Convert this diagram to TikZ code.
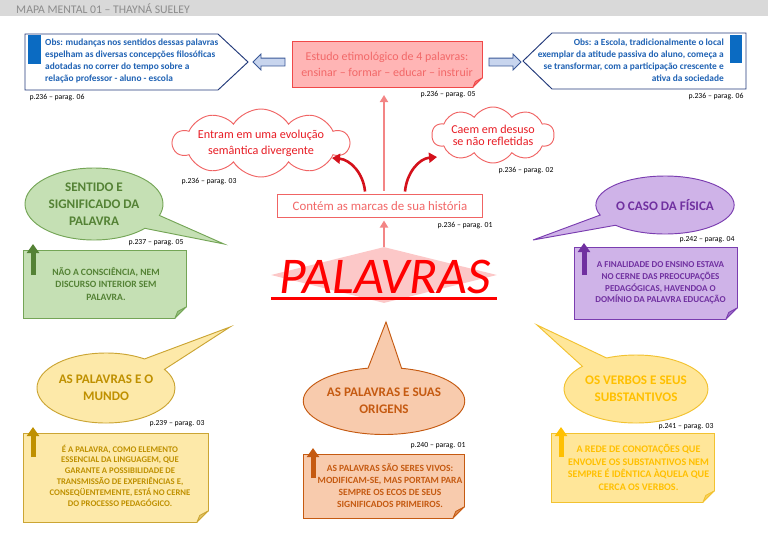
\documentclass[tikz,border=0pt]{standalone}
\usepackage{fontspec}
\setmainfont{Carlito}
\usetikzlibrary{shapes.geometric,shapes.symbols,shapes.callouts,shapes.arrows,arrows.meta}

\definecolor{headgray}{HTML}{D9D9D9}
\definecolor{headtext}{HTML}{8C8C8C}
\definecolor{obsblue}{HTML}{1F62B4}
\definecolor{obsline}{HTML}{22397A}
\definecolor{obsbar}{HTML}{0B6BC2}
\definecolor{arrfill}{HTML}{C8D5EE}
\definecolor{arrline}{HTML}{3A5897}
\definecolor{estfill}{HTML}{FFB5B5}
\definecolor{estline}{HTML}{F04848}
\definecolor{esttext}{HTML}{F26868}
\definecolor{cloudline}{HTML}{F06464}
\definecolor{cloudtext}{HTML}{E81C24}
\definecolor{curvered}{HTML}{D4111B}
\definecolor{pinkline}{HTML}{F38585}
\definecolor{palred}{HTML}{FF0000}
\definecolor{palbgcol}{HTML}{FCC8C8}
\definecolor{grfill}{HTML}{C5E0B4}
\definecolor{grline}{HTML}{74A556}
\definecolor{grtext}{HTML}{548235}
\definecolor{pufill}{HTML}{CFB3E8}
\definecolor{puline}{HTML}{7A3DB0}
\definecolor{putext}{HTML}{7030A0}
\definecolor{gdfill}{HTML}{FDE9A9}
\definecolor{gdline}{HTML}{CBA534}
\definecolor{gdtext}{HTML}{BF9000}
\definecolor{orfill}{HTML}{F8CBAD}
\definecolor{orline}{HTML}{C55A11}
\definecolor{ortext}{HTML}{C55A11}
\definecolor{yefill}{HTML}{FFE699}
\definecolor{yeline}{HTML}{F2C230}
\definecolor{yetext}{HTML}{FFC000}

% one pixel of the layout grid
\def\pxu{*0.03cm}

% folded corner at the bottom right of a box node
\newcommand{\foldcorner}[4]{%
  \fill[white] ([xshift=-#4\pxu,yshift=-1pt]#1.south east) -- ([xshift=1pt,yshift=-1pt]#1.south east) -- ([xshift=1pt,yshift=#4\pxu]#1.south east) -- cycle;
  \filldraw[fill=#3!55!#2, draw=#3, line width=0.7pt, line join=round] ([xshift=-#4\pxu]#1.south east) -- ([yshift=#4\pxu]#1.south east) -- ([xshift=-0.75*#4\pxu,yshift=0.6*#4\pxu]#1.south east) -- cycle;
}

\tikzset{
  pgref/.style={inner sep=0pt, font=\fontsize{6.6}{7}\selectfont},
  obstext/.style={inner sep=0pt, text=obsblue, font=\bfseries\fontsize{8}{10.3}\selectfont},
  obsbox/.style={draw=obsline, fill=white, line width=0.8pt, line join=miter},
  bluearrow/.style={single arrow, draw=arrline, fill=arrfill, line width=0.7pt, inner sep=0.105cm, minimum height=0.96cm, single arrow head extend=0.12cm},
  cloudbox/.style={cloud, cloud puffs=10, cloud puff arc=115, cloud ignores aspect, draw=cloudline, fill=white, line width=0.8pt, text=cloudtext, inner sep=0pt, align=center},
  bubble/.style={ellipse callout, callout pointer arc=24, line width=0.8pt, inner sep=0pt, align=center, minimum width=4.14cm, font=\bfseries\fontsize{11.2}{14.4}\selectfont},
  note/.style={rectangle, line width=0.7pt, inner sep=0pt, outer sep=0pt},
  notetext/.style={inner sep=0pt, align=center},
  notearrow/.style={line width=0.15cm, -{Triangle[width=0.36cm,length=0.27cm]}},
  pinkarrow/.style={draw=pinkline, line width=0.06cm, -{Triangle[width=0.24cm,length=0.21cm]}},
  redcurve/.style={draw=curvered, line width=0.078cm, -{Triangle[width=0.3cm,length=0.24cm]}},
  grn/.style={fill=grfill, draw=grline, text=grtext},
  pur/.style={fill=pufill, draw=puline, text=putext},
  gld/.style={fill=gdfill, draw=gdline, text=gdtext},
  orn/.style={fill=orfill, draw=orline, text=ortext},
  yel/.style={fill=yefill, draw=yeline, text=yetext}
}

\begin{document}
\begin{tikzpicture}[x=0.03cm, y=-0.03cm]
\useasboundingbox (0,0) rectangle (768,532);

% header
\fill[headgray] (0,0) rectangle (768,16);
\node[anchor=west, inner sep=0pt, text=headtext, font=\fontsize{10}{12}\selectfont] (title) at (16,8.5) {MAPA MENTAL 01 -- THAYNÁ SUELEY};

% top row
\draw[obsbox] (25,34) -- (218,34) -- (248,62) -- (218,90) -- (25,90) -- cycle;
\fill[obsbar] (28,35) rectangle (41,64);
\node[obstext, anchor=west, align=left] (obsL) at (45,61) {Obs: mudanças nos sentidos dessas palavras\\espelham as diversas concepções filosóficas\\adotadas no correr do tempo sobre a\\relação professor - aluno - escola};
\draw[obsbox] (523,61) -- (552,33) -- (746,33) -- (746,89) -- (552,89) -- cycle;
\fill[obsbar] (730,35) rectangle (742,63);
\node[obstext, anchor=east, align=right] (obsR) at (724,60) {Obs: a Escola, tradicionalmente o local\\exemplar da atitude passiva do aluno, começa a\\se transformar, com a participação crescente e\\ativa da sociedade};

\node[rectangle, fill=estfill, draw=estline, line width=0.7pt, outer sep=0pt, minimum width=190\pxu, minimum height=46\pxu, text=esttext, align=center, font=\fontsize{10.2}{13.5}\selectfont] (estudo) at (387,64) {Estudo etimológico de 4 palavras:\\ensinar -- formar -- educar -- instruir};
\foldcorner{estudo}{estfill}{estline}{9}

\node[bluearrow, shape border rotate=180] (arrowL) at (271,62) {};
\node[bluearrow] (arrowR) at (503,62) {};

% clouds and history box
\node[cloudbox, minimum width=165\pxu, minimum height=68\pxu, font=\fontsize{10.4}{13.4}\selectfont] (cloudL) at (261,143) {Entram em uma evolução\\semântica divergente};
\node[cloudbox, minimum width=122\pxu, minimum height=56\pxu, font=\fontsize{10.3}{10.3}\selectfont] (cloudR) at (493,135) {Caem em desuso\\se não refletidas};
\node[rectangle, draw=cloudline, fill=white, line width=0.7pt, outer sep=0pt, minimum width=205\pxu, minimum height=23\pxu, text=esttext, font=\fontsize{11}{12}\selectfont] (contem) at (380,206) {Contém as marcas de sua história};

% central word
\node[diamond, fill=palbgcol, inner sep=0pt, minimum width=226\pxu, minimum height=56\pxu] (palbg) at (384,275) {};
\node[anchor=base, inner sep=0pt, text=palred, font=\itshape\fontsize{44}{44}\selectfont] (palavras) at (385,293) {PALAVRAS};
\draw[palred, line width=0.09cm] ([yshift=-23\pxu]palbg.west) -- ([yshift=-23\pxu]palbg.east);

\draw[pinkarrow, shorten >=0.09cm] (palbg.north) -- (palbg.north |- contem.south);
\draw[pinkarrow, shorten <=0.12cm, shorten >=0.24cm] (palbg.north |- contem.north) -- (palbg.north |- estudo.south);
\draw[redcurve] ([xshift=-15\pxu,yshift=3\pxu]contem.north) to[out=95,in=-5] ([xshift=71\pxu,yshift=-15\pxu]cloudL.center);
\draw[redcurve] ([xshift=25\pxu,yshift=3\pxu]contem.north) to[out=85,in=185] ([xshift=-56\pxu,yshift=-22\pxu]cloudR.center);

% bubbles
\node[bubble, grn, minimum height=72\pxu, callout absolute pointer={(224,244)}] (sentido) at (94,204) {SENTIDO E\\SIGNIFICADO DA\\PALAVRA};
\node[bubble, pur, minimum width=134\pxu, minimum height=58\pxu, callout absolute pointer={(533,240)}] (fisica) at (665,205) {O CASO DA FÍSICA};
\node[bubble, gld, minimum height=70\pxu, callout absolute pointer={(230,327)}] (mundo) at (106,388) {AS PALAVRAS E O\\MUNDO};
\node[bubble, orn, minimum height=67\pxu, callout absolute pointer={(386,322)}] (origens) at (384,401) {AS PALAVRAS E SUAS\\ORIGENS};
\node[bubble, yel, minimum height=68\pxu, callout absolute pointer={(537,325)}] (verbos) at (636,389) {OS VERBOS E SEUS\\SUBSTANTIVOS};

% notes
\node[note, grn, minimum width=163\pxu, minimum height=68\pxu] (noteSentido) at (104.5,284) {};
\foldcorner{noteSentido}{grfill}{grline}{11}
\node[notetext, text=grtext, font=\bfseries\fontsize{8.2}{10.6}\selectfont] (txtSentido) at ([xshift=1.5\pxu]noteSentido.center) {NÃO A CONSCIÊNCIA, NEM\\DISCURSO INTERIOR SEM\\PALAVRA.};
\node[note, pur, minimum width=163\pxu, minimum height=72\pxu] (noteFisica) at (655.5,283) {};
\foldcorner{noteFisica}{pufill}{puline}{11}
\node[notetext, text=putext, font=\bfseries\fontsize{7.7}{10}\selectfont] (txtFisica) at ([xshift=5\pxu]noteFisica.center) {A FINALIDADE DO ENSINO ESTAVA\\NO CERNE DAS PREOCUPAÇÕES\\PEDAGÓGICAS, HAVENDOA O\\DOMÍNIO DA PALAVRA EDUCAÇÃO};
\node[note, gld, minimum width=185\pxu, minimum height=89\pxu] (noteMundo) at (115.5,477.5) {};
\foldcorner{noteMundo}{gdfill}{gdline}{11}
\node[notetext, text=gdtext, font=\bfseries\fontsize{7.4}{9.2}\selectfont] (txtMundo) at ([xshift=4.5\pxu,yshift=2\pxu]noteMundo.center) {É A PALAVRA, COMO ELEMENTO\\ESSENCIAL DA LINGUAGEM, QUE\\GARANTE A POSSIBILIDADE DE\\TRANSMISSÃO DE EXPERIÊNCIAS E,\\CONSEQÜENTEMENTE, ESTÁ NO CERNE\\DO PROCESSO PEDAGÓGICO.};
\node[note, orn, minimum width=161\pxu, minimum height=64\pxu] (noteOrigens) at (383.5,486) {};
\foldcorner{noteOrigens}{orfill}{orline}{11}
\node[notetext, text=ortext, font=\bfseries\fontsize{8.1}{10.2}\selectfont] (txtOrigens) at ([xshift=6.5\pxu]noteOrigens.center) {AS PALAVRAS SÃO SERES VIVOS:\\MODIFICAM-SE, MAS PORTAM PARA\\SEMPRE OS ECOS DE SEUS\\SIGNIFICADOS PRIMEIROS.};
\node[note, yel, minimum width=163\pxu, minimum height=69\pxu] (noteVerbos) at (632.5,467.5) {};
\foldcorner{noteVerbos}{yefill}{yeline}{11}
\node[notetext, text=yetext, font=\bfseries\fontsize{8.6}{10.6}\selectfont] (txtVerbos) at ([xshift=6\pxu]noteVerbos.center) {A REDE DE CONOTAÇÕES QUE\\ENVOLVE OS SUBSTANTIVOS NEM\\SEMPRE É IDÊNTICA ÀQUELA QUE\\CERCA OS VERBOS.};

\draw[notearrow, grtext] ([xshift=10\pxu,yshift=-25\pxu]noteSentido.north west) -- ([xshift=10\pxu,yshift=6\pxu]noteSentido.north west);
\draw[notearrow, putext] ([xshift=10\pxu,yshift=-28\pxu]noteFisica.north west) -- ([xshift=10\pxu,yshift=4\pxu]noteFisica.north west);
\draw[notearrow, gdtext] ([xshift=10\pxu,yshift=-24\pxu]noteMundo.north west) -- ([xshift=10\pxu,yshift=6\pxu]noteMundo.north west);
\draw[notearrow, ortext] ([xshift=10\pxu,yshift=-24\pxu]noteOrigens.north west) -- ([xshift=10\pxu,yshift=6\pxu]noteOrigens.north west);
\draw[notearrow, yetext] ([xshift=10\pxu,yshift=-24\pxu]noteVerbos.north west) -- ([xshift=10\pxu,yshift=6\pxu]noteVerbos.north west);

% page references
\node[pgref] (refObsL) at (57,98) {p.236 -- parag. 06};
\node[pgref] (refEstudo) at (448,95) {p.236 -- parag. 05};
\node[pgref] (refObsR) at (716,97) {p.236 -- parag. 06};
\node[pgref] (refCloudL) at (209,182) {p.236 -- parag. 03};
\node[pgref] (refCloudR) at (526,171) {p.236 -- parag. 02};
\node[pgref] (refContem) at (465,226) {p.236 -- parag. 01};
\node[pgref] (refSentido) at (156,243) {p.237 -- parag. 05};
\node[pgref] (refFisica) at (707,240) {p.242 -- parag. 04};
\node[pgref] (refMundo) at (177,424) {p.239 -- parag. 03};
\node[pgref] (refOrigens) at (438,446) {p.240 -- parag. 01};
\node[pgref] (refVerbos) at (686,427) {p.241 -- parag. 03};
\end{tikzpicture}
\end{document}
